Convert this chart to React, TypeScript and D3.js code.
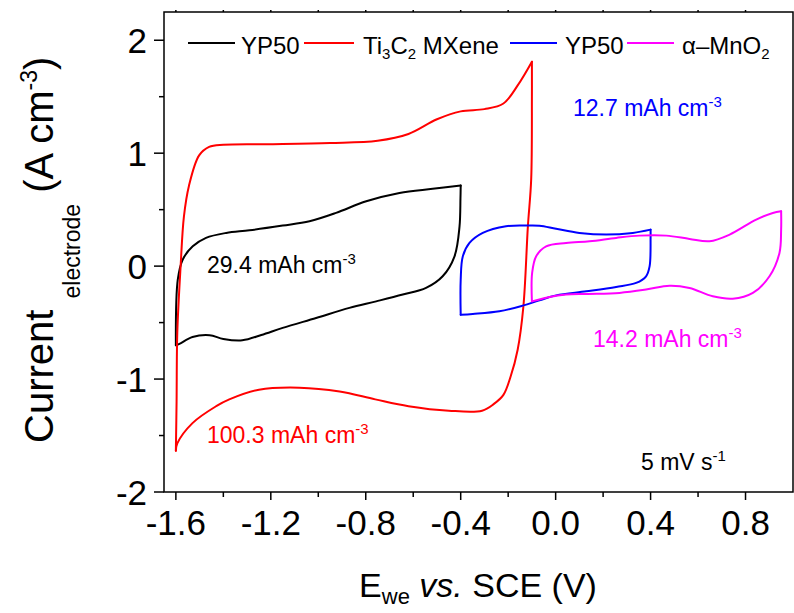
import React from 'react';
import * as d3 from 'd3';

type Pt = [number, number];

// ---- axis ticks ----
const xTickValues = [-1.6, -1.2, -0.8, -0.4, 0.0, 0.4, 0.8];
const xTickLabels = ['-1.6', '-1.2', '-0.8', '-0.4', '0.0', '0.4', '0.8'];
const xMinorTicks = [-1.4, -1.0, -0.6, -0.2, 0.2, 0.6];
const yTickValues = [-2, -1, 0, 1, 2];
const yTickLabels = ['-2', '-1', '0', '1', '2'];
const yMinorTicks = [-1.5, -0.5, 0.5, 1.5];

// ---- CV data (V vs SCE, A cm^-3) ----
const yp50NegAnodic: Pt[] = [
  [-1.6, -0.7], [-1.592, -0.12], [-1.571, 0.058], [-1.529, 0.175], [-1.473, 0.25],
  [-1.388, 0.294], [-1.29, 0.317], [-1.15, 0.359], [-1.037, 0.397], [-0.925, 0.471],
  [-0.798, 0.574], [-0.658, 0.648], [-0.518, 0.684], [-0.4, 0.713],
];
const yp50NegCathodic: Pt[] = [
  [-0.4, 0.713], [-0.401, 0.6], [-0.405, 0.35], [-0.426, 0.087], [-0.476, -0.09],
  [-0.546, -0.193], [-0.644, -0.252], [-0.756, -0.312], [-0.869, -0.37], [-1.009, -0.459],
  [-1.15, -0.547], [-1.24, -0.61], [-1.32, -0.657], [-1.4, -0.645], [-1.458, -0.612],
  [-1.53, -0.628], [-1.585, -0.688], [-1.6, -0.7],
];

const mxeneAnodic: Pt[] = [
  [-1.6, -1.634], [-1.597, -1.2], [-1.594, -0.59], [-1.58, 0.0], [-1.566, 0.44],
  [-1.545, 0.71], [-1.502, 0.98], [-1.46, 1.055], [-1.4, 1.075], [-1.2, 1.08],
  [-0.95, 1.09], [-0.75, 1.11], [-0.62, 1.17], [-0.5, 1.3], [-0.4, 1.37],
  [-0.3, 1.39], [-0.22, 1.44], [-0.16, 1.6], [-0.1, 1.81],
];
const mxeneCathodic: Pt[] = [
  [-0.1, 1.81], [-0.1, 1.5], [-0.103, 0.77], [-0.117, 0.35], [-0.136, -0.36],
  [-0.16, -0.74], [-0.19, -0.98], [-0.22, -1.14], [-0.26, -1.22], [-0.31, -1.28],
  [-0.45, -1.28], [-0.62, -1.24], [-0.76, -1.18], [-0.91, -1.11], [-1.08, -1.076],
  [-1.25, -1.094], [-1.375, -1.18], [-1.43, -1.24], [-1.53, -1.39], [-1.594, -1.57],
  [-1.6, -1.634],
];

const yp50PosAnodic: Pt[] = [
  [-0.4, -0.43], [-0.4, -0.12], [-0.391, 0.087], [-0.363, 0.205], [-0.307, 0.294],
  [-0.209, 0.353], [-0.118, 0.359], [-0.068, 0.357], [0.002, 0.33], [0.1, 0.294],
  [0.213, 0.279], [0.325, 0.294], [0.4, 0.323],
];
const yp50PosCathodic: Pt[] = [
  [0.4, 0.323], [0.4, 0.25], [0.396, 0.0], [0.381, -0.09], [0.339, -0.149],
  [0.255, -0.184], [0.129, -0.223], [0.002, -0.259], [-0.068, -0.303], [-0.139, -0.35],
  [-0.237, -0.4], [-0.349, -0.423], [-0.4, -0.43],
];

const mno2Anodic: Pt[] = [
  [-0.1, -0.312], [-0.099, -0.06], [-0.082, 0.087], [-0.04, 0.175], [0.044, 0.205],
  [0.143, 0.22], [0.255, 0.25], [0.353, 0.27], [0.466, 0.27], [0.564, 0.241],
  [0.648, 0.22], [0.733, 0.279], [0.845, 0.412], [0.915, 0.471], [0.95, 0.485],
];
const mno2Cathodic: Pt[] = [
  [0.95, 0.485], [0.95, 0.323], [0.943, 0.117], [0.901, -0.09], [0.831, -0.237],
  [0.746, -0.288], [0.662, -0.267], [0.564, -0.193], [0.48, -0.173], [0.381, -0.208],
  [0.269, -0.237], [0.129, -0.246], [0.044, -0.252], [-0.026, -0.273], [-0.1, -0.312],
];

const seriesColors = ['#000000', '#ff0000', '#0000ff', '#ff00ff'];

const FONT = "'Liberation Sans', Arial, Helvetica, sans-serif";

export default function App() {
  const W = 794, H = 613;
  const L = 164, R = 793, T = 12, B = 492;
  const x = d3.scaleLinear().domain([-1.65, 1.0]).range([L, R]);
  const y = d3.scaleLinear().domain([-2, 2.25]).range([B, T]);
  const line = d3.line<Pt>().x(d => x(d[0])).y(d => y(d[1])).curve(d3.curveCatmullRom.alpha(0.5));

  const series = [
    { branches: [yp50NegAnodic, yp50NegCathodic], color: seriesColors[0] },
    { branches: [mxeneAnodic, mxeneCathodic], color: seriesColors[1] },
    { branches: [yp50PosAnodic, yp50PosCathodic], color: seriesColors[2] },
    { branches: [mno2Anodic, mno2Cathodic], color: seriesColors[3] },
  ];

  const legendLines = [
    { x1: 188, x2: 235, color: seriesColors[0] },
    { x1: 304, x2: 354, color: seriesColors[1] },
    { x1: 510, x2: 557, color: seriesColors[2] },
    { x1: 627, x2: 674, color: seriesColors[3] },
  ];
  const legY = 43;
  const legBase = 54;

  return (
    <svg width={W} height={H} style={{ position: 'absolute', left: 0, top: 0, background: '#fff' }}
      fontFamily={FONT}>
      <rect x={0} y={0} width={W} height={H} fill="#fff" />
      {/* curves */}
      <g fill="none" strokeWidth={2} strokeLinejoin="round" strokeLinecap="round">
        {series.map((s, i) => (
          <g key={i} stroke={s.color}>
            {s.branches.map((b, j) => <path key={j} d={line(b) || ''} />)}
          </g>
        ))}
      </g>
      {/* frame */}
      <rect x={L} y={T} width={R - L} height={B - T} fill="none" stroke="#000" strokeWidth={1.5} />
      {/* x ticks */}
      <g stroke="#000" strokeWidth={1.5}>
        {xTickValues.map((v, i) => <line key={'xm' + i} x1={x(v)} x2={x(v)} y1={B} y2={B + 8} />)}
        {xMinorTicks.map((v, i) => <line key={'xn' + i} x1={x(v)} x2={x(v)} y1={B} y2={B + 5} />)}
        {xTickValues.concat(xMinorTicks).map((v, i) => <line key={'xt' + i} x1={x(v)} x2={x(v)} y1={T} y2={T - 2} />)}
        {yTickValues.map((v, i) => <line key={'ym' + i} x1={L - 10} x2={L} y1={y(v)} y2={y(v)} />)}
        {yMinorTicks.map((v, i) => <line key={'yn' + i} x1={L - 5} x2={L} y1={y(v)} y2={y(v)} />)}
      </g>
      {/* tick labels */}
      <g fontSize={35} fill="#000">
        {xTickValues.map((v, i) => (
          <text key={'xl' + i} x={x(v)} y={535} textAnchor="middle">{xTickLabels[i]}</text>
        ))}
        {yTickValues.map((v, i) => (
          <text key={'yl' + i} x={147} y={y(v)} dy="0.36em" textAnchor="end">{yTickLabels[i]}</text>
        ))}
      </g>
      {/* axis titles */}
      <text x={478} y={597} fontSize={34} textAnchor="middle" style={{ whiteSpace: 'pre' }}>
        E<tspan fontSize={22} dy={7}>we</tspan><tspan dy={-7}>{' '}</tspan><tspan fontStyle="italic">vs.</tspan>{' SCE (V)'}
      </text>
      <text transform="translate(53,443) rotate(-90)" fontSize={40} style={{ whiteSpace: 'pre' }}>
        {'Current '}<tspan fontSize={23} dy={27}>electrode</tspan><tspan dy={-27}>{' (A cm'}</tspan><tspan fontSize={23} dy={-16}>-3</tspan><tspan dy={16}>)</tspan>
      </text>
      {/* legend */}
      <g strokeWidth={2}>
        {legendLines.map((l, i) => <line key={i} x1={l.x1} x2={l.x2} y1={legY} y2={legY} stroke={l.color} />)}
      </g>
      <g fontSize={24} fill="#000" style={{ whiteSpace: 'pre' }}>
        <text x={241} y={legBase}>YP50</text>
        <text x={363} y={legBase}>Ti<tspan fontSize={15} dy={5}>3</tspan><tspan dy={-5}>C</tspan><tspan fontSize={15} dy={5}>2</tspan><tspan dy={-5}>{' MXene'}</tspan></text>
        <text x={565} y={legBase}>YP50</text>
        <text x={682} y={legBase}>α–MnO<tspan fontSize={15} dy={5}>2</tspan></text>
      </g>
      {/* annotations */}
      <g fontSize={23} style={{ whiteSpace: 'pre' }}>
        <text x={573} y={116} fill="#0000ff">12.7 mAh cm<tspan fontSize={15} dy={-9}>-3</tspan></text>
        <text x={207} y={273} fill="#000">29.4 mAh cm<tspan fontSize={15} dy={-9}>-3</tspan></text>
        <text x={593} y={347} fill="#ff00ff">14.2 mAh cm<tspan fontSize={15} dy={-9}>-3</tspan></text>
        <text x={207} y={443} fill="#ff0000">100.3 mAh cm<tspan fontSize={15} dy={-9}>-3</tspan></text>
        <text x={641} y={470} fill="#000">5 mV s<tspan fontSize={15} dy={-9}>-1</tspan></text>
      </g>
    </svg>
  );
}
